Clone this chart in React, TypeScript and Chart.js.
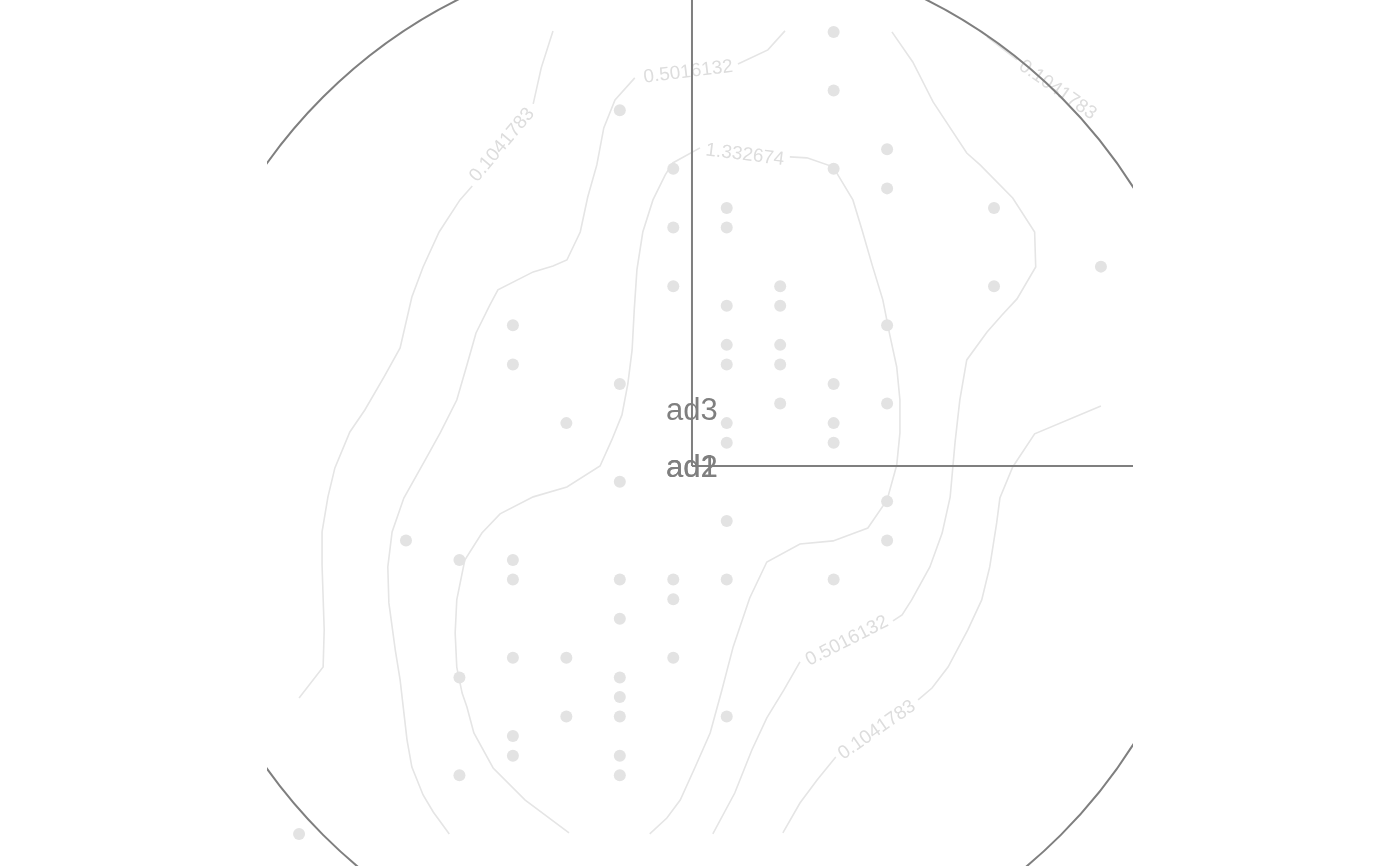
import React, { useEffect, useRef } from "react";
import { Chart, registerables } from "chart.js";

Chart.register(...registerables);

// ---- axis extents (data units) ----
const X_MIN = -7.95;
const X_MAX = 8.25;
const Y_MIN = -20.45;
const Y_MAX = 23.82;

// ---- observations ----
const pointX = [
  2.65, 2.65, -1.35, 3.65, -0.35, 2.65, 3.65, 0.65, 5.65, -0.35, 0.65, 7.65, -0.35, 1.65, 5.65,
  0.65, 1.65, -3.35, 3.65, 0.65, 1.65, -3.35, 0.65, 1.65, -1.35, 2.65, 1.65, 3.65, -2.35, 0.65,
  2.65, 0.65, 2.65, -1.35, 3.65, 0.65, -5.35, 3.65, -4.35, -3.35, -3.35, -1.35, -0.35, 0.65, 2.65,
  -0.35, -1.35, -3.35, -2.35, -0.35, -4.35, -1.35, -1.35, -2.35, -1.35, 0.65, -3.35, -3.35, -1.35,
  -4.35, -1.35, -7.35,
];
const pointY = [
  22.19, 19.19, 18.19, 16.19, 15.19, 15.19, 14.19, 13.19, 13.19, 12.19, 12.19, 10.19, 9.19, 9.19, 9.19,
  8.19, 8.19, 7.19, 7.19, 6.19, 6.19, 5.19, 5.19, 5.19, 4.19, 4.19, 3.19, 3.19, 2.19, 2.19,
  2.19, 1.19, 1.19, -0.81, -1.81, -2.81, -3.81, -3.81, -4.81, -4.81, -5.81, -5.81, -5.81, -5.81, -5.81,
  -6.81, -7.81, -9.81, -9.81, -9.81, -10.81, -10.81, -11.81, -12.81, -12.81, -12.81, -13.81, -14.81, -14.81,
  -15.81, -15.81, -18.81,
];

// ---- density contour paths (x, y pairs) ----
const contourLevels = ["0.1041783", "0.5016132", "1.332674"];

const outerLeftTop: [number, number][] = [
  [-2.6, 22.24], [-2.82, 20.35], [-2.97, 18.51],
];
const outerLeft: [number, number][] = [
  [-4.11, 14.31], [-4.34, 13.6], [-4.73, 11.96], [-5.03, 10.17], [-5.24, 8.64], [-5.46, 6.03],
  [-5.76, 4.55], [-6.12, 2.86], [-6.4, 1.74], [-6.68, -0.1], [-6.81, -1.58], [-6.92, -3.37],
  [-6.92, -5.06], [-6.88, -8.38], [-6.9, -10.28], [-7.35, -11.86],
];
const outerTopRight: [number, number][] = [
  [5.52, 21.93], [6.08, 20.76],
];
const outerRight: [number, number][] = [
  [7.65, 3.07], [6.41, 1.64], [6.0, -0.05], [5.76, -1.64], [5.7, -2.91], [5.57, -5.16],
  [5.42, -6.85], [5.16, -8.38], [4.79, -10.28], [4.49, -11.35], [4.23, -11.96],
];
const outerRightBottom: [number, number][] = [
  [2.69, -14.88], [2.34, -16.05], [2.02, -17.23], [1.7, -18.76],
];

const middleTop: [number, number][] = [
  [1.74, 22.24], [1.42, 21.27], [0.86, 20.55],
];
const middleLeft: [number, number][] = [
  [-1.07, 19.84], [-1.44, 18.71], [-1.65, 17.28], [-1.78, 15.39], [-1.95, 13.75], [-2.09, 11.96],
  [-2.34, 10.53], [-2.6, 10.22], [-2.97, 9.92], [-3.63, 9.0], [-3.78, 8.23], [-4.04, 6.8],
  [-4.21, 5.16], [-4.4, 3.37], [-4.71, 1.69], [-4.99, 0.31], [-5.39, -1.64], [-5.61, -3.37],
  [-5.69, -5.16], [-5.67, -7.0], [-5.55, -9.41], [-5.46, -10.94], [-5.33, -14.01], [-5.24, -15.39],
  [-5.03, -16.82], [-4.84, -17.69], [-4.54, -18.81],
];
const middleRight: [number, number][] = [
  [3.74, 22.19], [4.13, 20.65], [4.51, 18.61], [5.14, 16.0], [5.39, 15.39], [6.0, 13.7],
  [6.41, 11.96], [6.43, 10.17], [6.08, 8.54], [5.8, 7.72], [5.52, 6.85], [5.14, 5.42],
  [5.01, 3.37], [4.92, 1.18], [4.83, -1.58], [4.68, -3.43], [4.45, -5.16], [4.11, -6.85],
  [3.93, -7.62], [3.76, -7.92],
];
const middleRightBottom: [number, number][] = [
  [2.02, -10.02], [1.72, -11.45], [1.4, -12.88], [1.12, -14.52], [0.8, -16.72], [0.39, -18.81],
];

const innerLeft: [number, number][] = [
  [0.15, 16.26], [-0.36, 15.49], [-0.5, 14.88], [-0.73, 13.6], [-0.92, 11.96], [-1.03, 10.02],
  [-1.08, 7.98], [-1.12, 5.93], [-1.2, 4.19], [-1.31, 2.61], [-1.5, 1.33], [-1.72, 0.0],
  [-2.34, -1.07], [-2.97, -1.58], [-3.59, -2.45], [-3.93, -3.43], [-4.25, -4.81], [-4.4, -6.85],
  [-4.43, -8.54], [-4.4, -10.28], [-4.3, -11.61], [-4.21, -12.32], [-4.08, -13.65], [-3.72, -15.44],
  [-3.12, -17.08], [-2.3, -18.76],
];
const innerRight: [number, number][] = [
  [1.83, 15.8], [2.15, 15.75], [2.64, 15.29], [3.01, 13.6], [3.18, 12.07], [3.37, 10.28],
  [3.57, 8.49], [3.7, 6.7], [3.83, 5.06], [3.89, 3.37], [3.89, 1.69], [3.83, 0.05],
  [3.65, -1.74], [3.29, -3.17], [2.64, -3.83], [2.02, -3.99], [1.4, -4.91], [1.08, -6.75],
  [0.77, -9.25], [0.56, -11.45], [0.34, -13.65], [0.06, -15.39], [-0.22, -17.08], [-0.47, -18.0],
  [-0.79, -18.81],
];

const contourPaths: [number, number][][] = [
  outerLeftTop, outerLeft, outerTopRight, outerRight, outerRightBottom,
  middleTop, middleLeft, middleRight, middleRightBottom,
  innerLeft, innerRight,
];

// ---- contour labels ----
const contourLabelText = ["0.1041783", "0.1041783", "0.1041783", "0.5016132", "0.5016132", "1.332674"];
const contourLabelX = [-3.55, 6.84, 3.46, -0.07, 2.9, 0.99];
const contourLabelY = [16.41, 19.22, -13.5, 20.14, -8.95, 15.9];
const contourLabelAngle = [-50, 35, -35, -7, -27, 7];

// ---- variable arrows ----
const arrowNames = ["ad1", "ad2", "ad3"];
const arrowEndX = [12, 12, 0];
const arrowEndY = [0, 0, 30];
const arrowLabelX = [0, 0, 0];
const arrowLabelY = [0, 0, 2.91];

// correlation circle radius (x-axis units)
const circleRadius = 9.76;

const GREY = "#7f7f7f";
const LIGHT = "#e5e5e5";

const overlayPlugin = {
  id: "biplotOverlay",
  afterDatasetsDraw(chart: any) {
    const { ctx, chartArea: a, scales } = chart;
    const xs = scales.x;
    const ys = scales.y;
    ctx.save();
    ctx.beginPath();
    ctx.rect(a.left, a.top, a.right - a.left, a.bottom - a.top);
    ctx.clip();

    // contour labels
    ctx.fillStyle = "#dddddd";
    ctx.font = '19px "Liberation Sans", Arial, sans-serif';
    ctx.textAlign = "center";
    ctx.textBaseline = "middle";
    for (let i = 0; i < contourLabelText.length; i++) {
      ctx.save();
      ctx.translate(xs.getPixelForValue(contourLabelX[i]), ys.getPixelForValue(contourLabelY[i]));
      ctx.rotate((contourLabelAngle[i] * Math.PI) / 180);
      ctx.fillText(contourLabelText[i], 0, 0);
      ctx.restore();
    }

    // circle
    const cx = xs.getPixelForValue(0);
    const cy = ys.getPixelForValue(0);
    const r = xs.getPixelForValue(circleRadius) - cx;
    ctx.strokeStyle = GREY;
    ctx.lineWidth = 2;
    ctx.beginPath();
    ctx.arc(cx, cy, r, 0, Math.PI * 2);
    ctx.stroke();

    // arrows
    for (let i = 0; i < arrowNames.length; i++) {
      ctx.beginPath();
      ctx.moveTo(cx, cy);
      ctx.lineTo(xs.getPixelForValue(arrowEndX[i]), ys.getPixelForValue(arrowEndY[i]));
      ctx.stroke();
    }

    // arrow labels
    ctx.fillStyle = GREY;
    const fs = 31;
    ctx.font = `${fs}px "Liberation Sans", Arial, sans-serif`;
    ctx.textAlign = "center";
    ctx.textBaseline = "alphabetic";
    for (let i = 0; i < arrowNames.length; i++) {
      ctx.fillText(
        arrowNames[i],
        xs.getPixelForValue(arrowLabelX[i]),
        ys.getPixelForValue(arrowLabelY[i]) + fs * 0.36
      );
    }
    ctx.restore();
  },
};

export default function App() {
  const canvasRef = useRef<HTMLCanvasElement | null>(null);

  useEffect(() => {
    document.body.style.margin = "0";
    const canvas = canvasRef.current;
    if (!canvas) return;

    const contourDatasets = contourPaths.map((path) => ({
      type: "line" as const,
      data: path.map(([x, y]) => ({ x, y })),
      showLine: true,
      borderColor: LIGHT,
      borderWidth: 1.6,
      pointRadius: 0,
      tension: 0,
      fill: false,
      order: 5,
    }));

    const chart = new Chart(canvas, {
      type: "scatter",
      data: {
        datasets: [
          {
            type: "scatter",
            data: pointX.map((x, i) => ({ x, y: pointY[i] })),
            pointRadius: 6,
            pointBackgroundColor: "#e3e3e3",
            pointBorderWidth: 0,
            borderWidth: 0,
            order: 1,
          } as any,
          ...(contourDatasets as any[]),
        ],
      },
      options: {
        responsive: false,
        animation: false,
        devicePixelRatio: 1,
        layout: { autoPadding: false, padding: { left: 267, right: 267, top: 0, bottom: 0 } },
        scales: {
          x: { type: "linear", min: X_MIN, max: X_MAX, display: false },
          y: { type: "linear", min: Y_MIN, max: Y_MAX, display: false },
        },
        plugins: {
          legend: { display: false },
          tooltip: { enabled: false },
        },
      },
      plugins: [overlayPlugin],
    });

    return () => chart.destroy();
  }, []);

  return (
    <div style={{ width: 1400, height: 866, background: "#ffffff" }}>
      <canvas
        ref={canvasRef}
        width={1400}
        height={866}
        style={{ display: "block", width: 1400, height: 866 }}
      />
    </div>
  );
}
